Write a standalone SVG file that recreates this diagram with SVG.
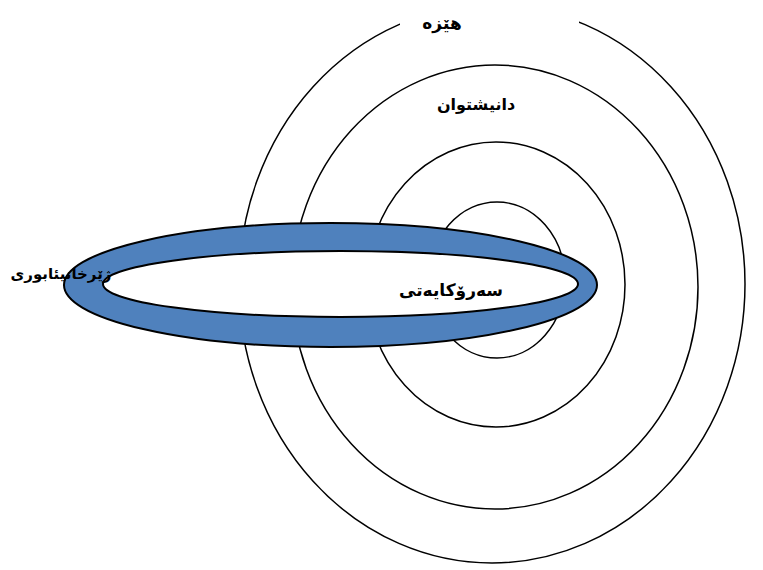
<svg xmlns="http://www.w3.org/2000/svg" width="763" height="570" viewBox="0 0 763 570">
<style>
.c{fill:none;stroke:#000;stroke-width:1.5}
.ringo{fill:#4F81BD;stroke:#000;stroke-width:2}
.ringi{fill:#fff;stroke:#000;stroke-width:2}
.t{font-family:"DejaVu Sans",sans-serif;font-weight:bold;fill:#000;text-anchor:middle}
</style>
<rect width="763" height="570" fill="#fff"/>
<g id="circle-power">
<ellipse class="c" cx="492" cy="284" rx="253" ry="279"/>
<rect x="400" y="0" width="179" height="30" fill="#fff"/>
<text class="t" x="442" y="29" font-size="17" direction="rtl">هێزە</text>
</g>
<g id="circle-residents">
<ellipse class="c" cx="495" cy="287" rx="203" ry="222"/>
<text class="t" x="476" y="110" font-size="16" direction="rtl">دانیشتوان</text>
</g>
<g id="circle-3">
<ellipse class="c" cx="496" cy="284.5" rx="129" ry="142.5"/>
</g>
<g id="circle-4">
<ellipse class="c" cx="497" cy="280" rx="68" ry="78"/>
</g>
<g id="ring-infrastructure">
<ellipse class="ringo" cx="330.5" cy="285" rx="266.5" ry="62"/>
<ellipse class="ringi" cx="340.5" cy="284" rx="237.5" ry="33"/>
<text class="t" x="61" y="279" font-size="15" direction="rtl">ژێرخانیئابوری</text>
</g>
<g id="leadership">
<text class="t" x="451" y="296" font-size="17" direction="rtl">سەرۆکایەتی</text>
</g>
<g id="connectors"></g>
</svg>
